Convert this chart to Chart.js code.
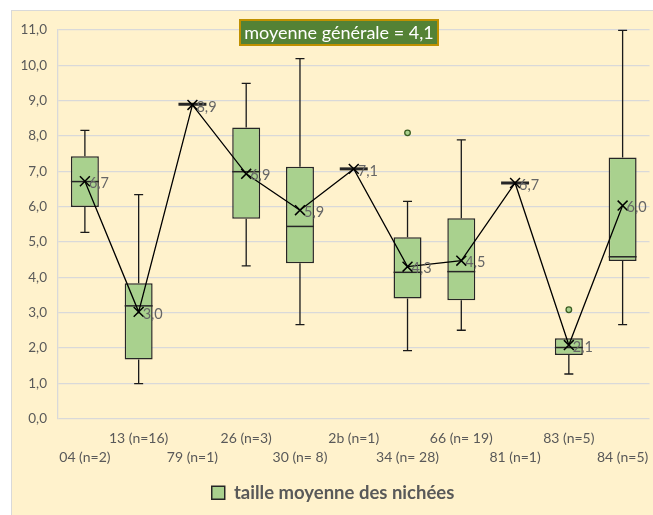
<!DOCTYPE html>
<html>
<head>
<meta charset="utf-8">
<script src="https://cdn.jsdelivr.net/npm/chart.js@4.4.1/dist/chart.umd.min.js"></script>
<style>
  html, body { margin: 0; padding: 0; background: #fff; overflow: hidden; }
  #frame {
    position: absolute; left: 11px; top: 10px;
    width: 646px; height: 505px;
    border-left: 1px solid #d9d9d9; border-top: 1px solid #d9d9d9;
    background: #fff2cc;
  }
  canvas { display: block; }
</style>
</head>
<body>
<div id="frame"><canvas id="nestChart" width="646" height="505"></canvas></div>
<script>
// département (taille de l'échantillon)
const categories = ['04 (n=2)', '13 (n=16)', '79 (n=1)', '26 (n=3)', '30 (n= 8)', '2b (n=1)',
                    '34 (n= 28)', '66 (n= 19)', '81 (n=1)', '83 (n=5)', '84 (n=5)'];

// box plot values
const whiskerLow  = [5.27, 0.99, 8.9, 4.32, 2.66, 7.07, 1.92, 2.50, 6.67, 1.26, 2.66];
const quartile1   = [5.99, 1.67, 8.9, 5.66, 4.40, 7.07, 3.40, 3.35, 6.67, 1.80, 4.46];
const medians     = [6.71, 3.19, 8.9, 6.99, 5.44, 7.07, 4.14, 4.16, 6.67, 2.01, 4.58];
const quartile3   = [7.43, 3.83, 8.9, 8.24, 7.13, 7.07, 5.13, 5.67, 6.67, 2.27, 7.39];
const whiskerHigh = [8.16, 6.34, 8.9, 9.49, 10.19, 7.07, 6.15, 7.89, 6.67, 2.27, 10.99];
const means       = [6.72, 3.02, 8.88, 6.93, 5.90, 7.07, 4.30, 4.47, 6.67, 2.08, 6.03];
const outliers    = [null, null, null, null, null, null, 8.09, null, null, 3.08, null];

const overallMean = '4,1';
const fmt = v => v.toFixed(1).replace('.', ',');

const boxFill = '#a9d18e';
const boxLine = '#262626';
const textGray = '#595959';
const barPct = 0.52;

const isSingle = i => quartile1[i] === quartile3[i];

const boxExtras = {
  id: 'boxExtras',
  beforeDatasetsDraw(chart) {
    const { ctx, scales: { x, y } } = chart;
    const cap = 9;
    ctx.save();
    ctx.strokeStyle = '#1a1a1a';
    ctx.lineWidth = 1.3;
    categories.forEach((c, i) => {
      if (isSingle(i)) return;
      const cx = x.getPixelForValue(i);
      const segs = [[quartile3[i], whiskerHigh[i]], [quartile1[i], whiskerLow[i]]];
      segs.forEach(([a, b]) => {
        if (a === b) return;
        ctx.beginPath();
        ctx.moveTo(cx, y.getPixelForValue(a));
        ctx.lineTo(cx, y.getPixelForValue(b));
        ctx.moveTo(cx - cap / 2, y.getPixelForValue(b));
        ctx.lineTo(cx + cap / 2, y.getPixelForValue(b));
        ctx.stroke();
      });
    });
    ctx.restore();
  },
  afterDatasetDraw(chart, args) {
    if (args.index !== 2) return;
    const { ctx, scales: { x, y } } = chart;
    const w = x.width / categories.length * barPct;
    ctx.save();
    ctx.strokeStyle = boxLine;
    categories.forEach((c, i) => {
      const cx = x.getPixelForValue(i);
      const py = y.getPixelForValue(medians[i]);
      ctx.lineWidth = isSingle(i) ? 3 : 1.5;
      ctx.beginPath();
      ctx.moveTo(cx - w / 2, py);
      ctx.lineTo(cx + w / 2, py);
      ctx.stroke();
    });
    ctx.restore();
  },
  afterDatasetsDraw(chart) {
    const { ctx } = chart;
    const meta = chart.getDatasetMeta(0);
    ctx.save();
    ctx.fillStyle = '#666666';
    ctx.font = '14.5px Lato';
    ctx.textAlign = 'left';
    ctx.textBaseline = 'middle';
    meta.data.forEach((pt, i) => {
      ctx.fillText(fmt(means[i]), pt.x + 4, pt.y + 2);
    });
    ctx.restore();
  },
  afterDraw(chart) {
    const { ctx } = chart;
    const bx = 228, by = 9, bw = 198, bh = 25;
    ctx.save();
    ctx.fillStyle = '#548235';
    ctx.fillRect(bx, by, bw, bh);
    ctx.strokeStyle = '#bf9000';
    ctx.lineWidth = 2;
    ctx.strokeRect(bx, by, bw, bh);
    ctx.fillStyle = '#ffffff';
    ctx.font = '18px Lato';
    ctx.textAlign = 'center';
    ctx.textBaseline = 'middle';
    ctx.fillText('moyenne générale = ' + overallMean, bx + bw / 2, by + bh / 2 + 1);
    ctx.restore();
  }
};

new Chart(document.querySelector('#nestChart'), {
  type: 'bar',
  data: {
    labels: categories,
    datasets: [
      {
        type: 'line',
        label: 'moyenne',
        data: means,
        order: 0,
        borderColor: '#000',
        borderWidth: 1.3,
        pointStyle: 'crossRot',
        pointRadius: 7,
        pointBorderWidth: 1.5,
        pointBorderColor: '#000',
        tension: 0
      },
      {
        type: 'line',
        label: 'valeurs extrêmes',
        data: outliers,
        order: 1,
        showLine: false,
        pointStyle: 'circle',
        pointRadius: 2.8,
        pointBackgroundColor: boxFill,
        pointBorderColor: '#3b5e24',
        pointBorderWidth: 1.3
      },
      {
        label: 'taille moyenne des nichées',
        data: categories.map((c, i) => isSingle(i) ? null : [quartile1[i], quartile3[i]]),
        order: 2,
        backgroundColor: boxFill,
        borderColor: boxLine,
        borderWidth: 1.5,
        borderSkipped: false,
        categoryPercentage: 1,
        barPercentage: barPct
      }
    ]
  },
  options: {
    responsive: false,
    animation: false,
    layout: { padding: { top: 17, right: 4, bottom: 4, left: 0 } },
    plugins: {
      tooltip: { enabled: false },
      legend: {
        position: 'bottom',
        labels: {
          filter: item => item.datasetIndex === 2,
          boxWidth: 13,
          boxHeight: 13,
          padding: 10,
          color: textGray,
          font: { family: 'Lato', size: 18.5, weight: 'bold' }
        }
      }
    },
    scales: {
      x: {
        grid: { display: false },
        border: { display: false },
        ticks: {
          autoSkip: false,
          maxRotation: 0,
          padding: 3,
          color: textGray,
          font: { family: 'Lato', size: 14, lineHeight: 1.35 },
          callback: (v, i) => i % 2 === 0 ? ['', categories[i]] : [categories[i], '']
        },
        afterFit: s => { s.height = 55; }
      },
      y: {
        min: 0,
        max: 11,
        grid: { color: '#d9d9d9', lineWidth: 1.3, drawTicks: false },
        border: { color: '#d9d9d9', width: 1.3 },
        ticks: {
          stepSize: 1,
          padding: 11,
          color: textGray,
          font: { family: 'Lato', size: 13.5 },
          callback: v => fmt(v)
        },
        afterFit: s => { s.width = 46; }
      }
    }
  },
  plugins: [boxExtras]
});
</script>
</body>
</html>
